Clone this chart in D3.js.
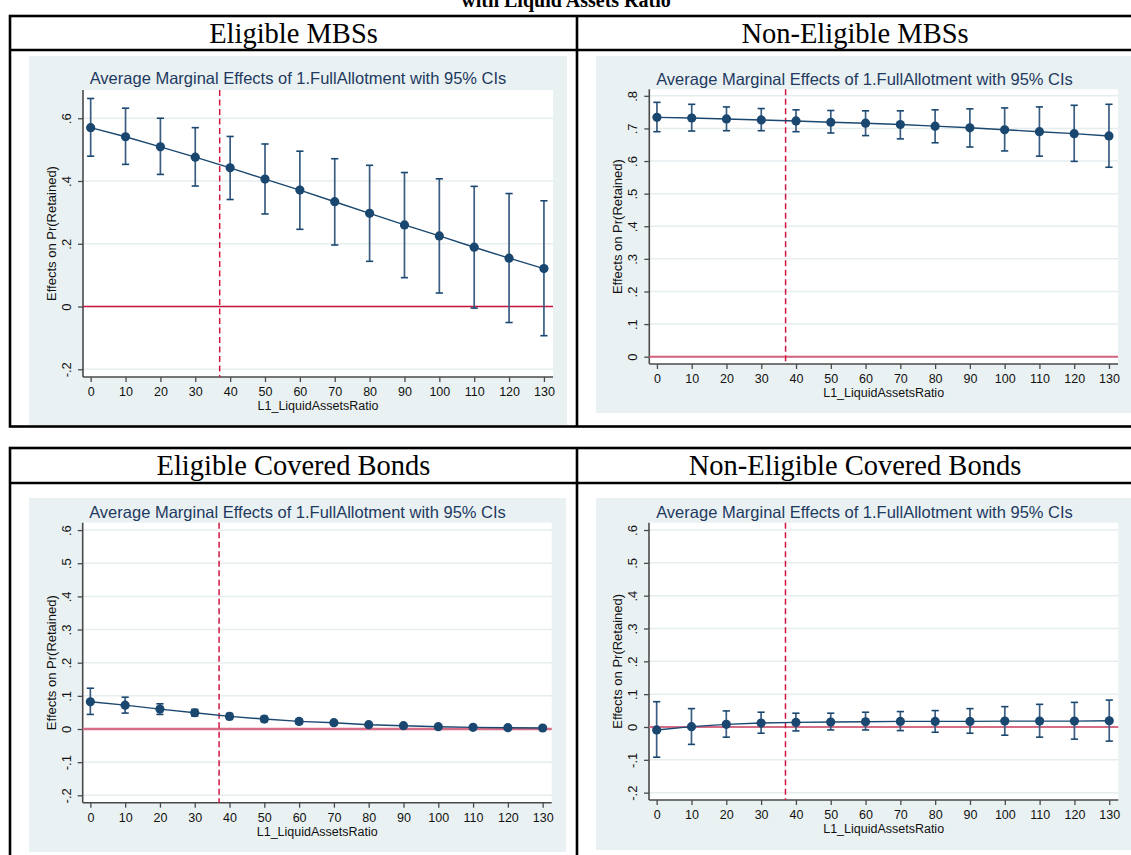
<!DOCTYPE html>
<html>
<head>
<meta charset="utf-8">
<script src="https://cdn.jsdelivr.net/npm/d3@7"></script>
<style>
  html, body { margin: 0; padding: 0; background: #fff; overflow: hidden; }
  svg { display: block; }
</style>
</head>
<body>
<div id="chart"></div>
<script>
/* Average marginal effects of FullAllotment on Pr(Retained),
   by liquid assets ratio, four Stata-style panels inside a table */
(function () {
  "use strict";

  // x levels (L1_LiquidAssetsRatio)
  var levels = [0, 10, 20, 30, 40, 50, 60, 70, 80, 90, 100, 110, 120, 130];
  var thresholdRatio = 37;

  // Eligible MBSs
  var eligMbsEffect = [0.570, 0.541, 0.509, 0.476, 0.442, 0.406, 0.371, 0.334, 0.297, 0.260, 0.225, 0.189, 0.154, 0.121];
  var eligMbsLower  = [0.479, 0.453, 0.421, 0.384, 0.341, 0.295, 0.246, 0.196, 0.144, 0.092, 0.043, -0.005, -0.051, -0.093];
  var eligMbsUpper  = [0.663, 0.632, 0.600, 0.570, 0.542, 0.518, 0.495, 0.471, 0.450, 0.427, 0.407, 0.383, 0.360, 0.337];

  // Non-Eligible MBSs
  var nonEligMbsEffect = [0.734, 0.732, 0.729, 0.726, 0.723, 0.719, 0.716, 0.712, 0.707, 0.702, 0.696, 0.690, 0.684, 0.677];
  var nonEligMbsLower  = [0.690, 0.692, 0.693, 0.693, 0.690, 0.686, 0.678, 0.668, 0.656, 0.643, 0.631, 0.615, 0.599, 0.581];
  var nonEligMbsUpper  = [0.780, 0.774, 0.766, 0.761, 0.757, 0.755, 0.754, 0.754, 0.757, 0.760, 0.763, 0.766, 0.771, 0.774];

  // Eligible Covered Bonds
  var eligCbEffect = [0.082, 0.072, 0.060, 0.049, 0.038, 0.030, 0.023, 0.019, 0.013, 0.010, 0.007, 0.005, 0.004, 0.003];
  var eligCbLower  = [0.044, 0.048, 0.044, 0.039, 0.029, 0.022, 0.016, 0.013, 0.008, 0.006, 0.004, 0.002, 0.002, 0.001];
  var eligCbUpper  = [0.123, 0.096, 0.076, 0.059, 0.047, 0.038, 0.030, 0.025, 0.018, 0.014, 0.010, 0.008, 0.006, 0.005];

  // Non-Eligible Covered Bonds
  var nonEligCbEffect = [-0.009, 0.001, 0.008, 0.012, 0.014, 0.015, 0.016, 0.017, 0.017, 0.017, 0.018, 0.018, 0.018, 0.019];
  var nonEligCbLower  = [-0.092, -0.053, -0.031, -0.019, -0.012, -0.009, -0.009, -0.011, -0.016, -0.019, -0.025, -0.031, -0.037, -0.043];
  var nonEligCbUpper  = [0.077, 0.056, 0.049, 0.045, 0.042, 0.042, 0.045, 0.047, 0.050, 0.056, 0.062, 0.069, 0.075, 0.082];

  // y tick values
  var ticksEligMbs = [-0.2, 0, 0.2, 0.4, 0.6];
  var ticksNonEligMbs = [0, 0.1, 0.2, 0.3, 0.4, 0.5, 0.6, 0.7, 0.8];
  var ticksCovered = [-0.2, -0.1, 0, 0.1, 0.2, 0.3, 0.4, 0.5, 0.6];

  // texts
  var pageHeading = "with Liquid Assets Ratio";
  var panelHeaders = ["Eligible MBSs", "Non-Eligible MBSs", "Eligible Covered Bonds", "Non-Eligible Covered Bonds"];
  var graphTitle = "Average Marginal Effects of 1.FullAllotment with 95% CIs";
  var xTitle = "L1_LiquidAssetsRatio";
  var yTitle = "Effects on Pr(Retained)";

  var W = 1131, H = 855;
  var SANS = "'Liberation Sans', Arial, Helvetica, sans-serif";
  var SERIF = "'Liberation Serif', 'Times New Roman', serif";
  var NAVY = "#1a476f";
  var BG = "#eaf1f3";
  var AXIS = "#4a4a4a";

  function fmtTick(v) {
    var r = Math.round(v * 10) / 10;
    if (r === 0) return "0";
    return String(r).replace("0.", ".");
  }

  function rows(est, lo, hi) {
    return levels.map(function (lv, i) { return { x: lv, est: est[i], lo: lo[i], hi: hi[i] }; });
  }

  // layout for each panel (pixels) + y domain of the plot region
  var panels = [
    { data: rows(eligMbsEffect, eligMbsLower, eligMbsUpper), ticks: ticksEligMbs, yDom: [-0.2246, 0.690],
      bg: [29, 56, 567, 425], plot: [83, 90, 553, 377], titleY: 84,
      zero: { c: "#c8143c", w: 1.3 } },
    { data: rows(nonEligMbsEffect, nonEligMbsLower, nonEligMbsUpper), ticks: ticksNonEligMbs, yDom: [-0.0224, 0.820],
      bg: [596, 56, 1133, 413], plot: [649.3, 89.3, 1118, 364], titleY: 85,
      zero: { c: "#d2627c", w: 2 } },
    { data: rows(eligCbEffect, eligCbLower, eligCbUpper), ticks: ticksCovered, yDom: [-0.2223, 0.6223],
      bg: [29, 498, 566, 852], plot: [82.7, 522.7, 551.7, 802.7], titleY: 517.5,
      zero: { c: "#d76d86", w: 2.4 } },
    { data: rows(nonEligCbEffect, nonEligCbLower, nonEligCbUpper), ticks: ticksCovered, yDom: [-0.2224, 0.6223],
      bg: [596, 498, 1133, 850], plot: [649, 522.7, 1118.3, 800], titleY: 517.5,
      zero: { c: "#d56c86", w: 2 } }
  ];

  var svg = d3.select("#chart").append("svg").attr("width", W).attr("height", H);

  /* Stata-like graph panel */
  function drawPanel(p) {
    var g = svg.append("g");
    var bx = p.bg;
    g.append("rect").attr("x", bx[0]).attr("y", bx[1])
      .attr("width", bx[2] - bx[0]).attr("height", bx[3] - bx[1]).attr("fill", BG);

    var x = d3.scaleLinear().domain([-2.2, 132.6]).range([p.plot[0], p.plot[2]]);
    var y = d3.scaleLinear().domain(p.yDom).range([p.plot[3], p.plot[1]]);
    var xl = p.plot[0], xr = p.plot[2], yt = p.plot[1], yb = p.plot[3];

    g.append("rect").attr("x", xl).attr("y", yt).attr("width", xr - xl).attr("height", yb - yt).attr("fill", "#fff");

    // grid
    g.selectAll("line.grid").data(p.ticks).join("line").attr("class", "grid")
      .attr("x1", xl).attr("x2", xr)
      .attr("y1", function (d) { return y(d); }).attr("y2", function (d) { return y(d); })
      .attr("stroke", "#e6edef").attr("stroke-width", 1.5);

    // title
    g.append("text").attr("x", (bx[0] + bx[2]) / 2).attr("y", p.titleY)
      .attr("text-anchor", "middle").style("font-family", SANS).style("font-size", "16.5px")
      .style("fill", "#1e3a5f").text(graphTitle);

    // y axis
    var ya = g.append("g").attr("transform", "translate(" + xl + ",0)")
      .call(d3.axisLeft(y).tickValues(p.ticks).tickSize(5).tickSizeOuter(0).tickFormat(fmtTick));
    ya.select(".domain").attr("stroke", AXIS).attr("stroke-width", 1.6)
      .attr("d", "M0," + yt + "V" + yb);
    ya.selectAll(".tick line").attr("stroke", AXIS).attr("stroke-width", 1.3);
    ya.selectAll(".tick text").attr("x", null).attr("dy", "0.36em")
      .attr("transform", "translate(-16.5,0) rotate(-90)")
      .attr("text-anchor", "middle").style("font-family", SANS).style("font-size", "13px").style("fill", "#111");

    g.append("text")
      .attr("transform", "translate(" + (xl - 31.5) + "," + ((yt + yb) / 2) + ") rotate(-90)")
      .attr("dy", "0.36em").attr("text-anchor", "middle")
      .style("font-family", SANS).style("font-size", "13px").style("fill", "#111").text(yTitle);

    // x axis
    var xa = g.append("g").attr("transform", "translate(0," + yb + ")")
      .call(d3.axisBottom(x).tickValues(levels).tickSize(5).tickSizeOuter(0).tickPadding(5.5));
    xa.select(".domain").attr("stroke", AXIS).attr("stroke-width", 1.6)
      .attr("d", "M" + xl + ",0H" + xr);
    xa.selectAll(".tick line").attr("stroke", AXIS).attr("stroke-width", 1.3);
    xa.selectAll(".tick text").style("font-family", SANS).style("font-size", "12.5px").style("fill", "#111");

    g.append("text").attr("x", (xl + xr) / 2).attr("y", yb + 28.5).attr("dy", "0.36em")
      .attr("text-anchor", "middle").style("font-family", SANS).style("font-size", "12.5px")
      .style("fill", "#111").text(xTitle);

    // reference lines
    g.append("line").attr("x1", xl).attr("x2", xr).attr("y1", y(0)).attr("y2", y(0))
      .attr("stroke", p.zero.c).attr("stroke-width", p.zero.w);
    g.append("line").attr("x1", x(thresholdRatio)).attr("x2", x(thresholdRatio))
      .attr("y1", yt).attr("y2", yb)
      .attr("stroke", "#d0153f").attr("stroke-width", 1.5).attr("stroke-dasharray", "6,3.5");

    // confidence intervals
    var ci = g.append("g");
    ci.selectAll("line.bar").data(p.data).join("line").attr("class", "bar")
      .attr("x1", function (d) { return x(d.x); }).attr("x2", function (d) { return x(d.x); })
      .attr("y1", function (d) { return y(d.lo); }).attr("y2", function (d) { return y(d.hi); })
      .attr("stroke", "#3a5d81").attr("stroke-width", 1.7);
    ["lo", "hi"].forEach(function (k) {
      ci.selectAll("line.cap-" + k).data(p.data).join("line").attr("class", "cap-" + k)
        .attr("x1", function (d) { return x(d.x) - 3.6; }).attr("x2", function (d) { return x(d.x) + 3.6; })
        .attr("y1", function (d) { return y(d[k]); }).attr("y2", function (d) { return y(d[k]); })
        .attr("stroke", NAVY).attr("stroke-width", 1.6);
    });

    // connected estimates
    var line = d3.line().x(function (d) { return x(d.x); }).y(function (d) { return y(d.est); });
    g.append("path").datum(p.data).attr("d", line)
      .attr("fill", "none").attr("stroke", NAVY).attr("stroke-width", 1.4);
    g.selectAll("circle.pt").data(p.data).join("circle").attr("class", "pt")
      .attr("cx", function (d) { return x(d.x); }).attr("cy", function (d) { return y(d.est); })
      .attr("r", 4.6).attr("fill", NAVY);
  }

  // page heading (clipped at the top edge, as in the source page)
  svg.append("text").attr("x", 566).attr("y", 6.5).attr("text-anchor", "middle")
    .style("font-family", SERIF).style("font-size", "20px").style("font-weight", "bold")
    .style("fill", "#000").text(pageHeading);

  panels.forEach(drawPanel);

  /* Table frame */
  var tables = [
    { top: 16, head: 50, bottom: 426.5, headerY: 43 },
    { top: 448, head: 483, bottom: 858, headerY: 475 }
  ];
  var tL = 10, tM = 577, tR = 1133;
  tables.forEach(function (t, ti) {
    var f = svg.append("g").attr("stroke", "#000").attr("stroke-width", 2.6).attr("fill", "none");
    f.append("rect").attr("x", tL).attr("y", t.top).attr("width", tR - tL).attr("height", t.bottom - t.top);
    f.append("line").attr("x1", tL).attr("x2", tR).attr("y1", t.head).attr("y2", t.head);
    f.append("line").attr("x1", tM).attr("x2", tM).attr("y1", t.top).attr("y2", t.bottom);
    [(tL + tM) / 2, (tM + tR) / 2].forEach(function (cx, ci) {
      svg.append("text").attr("x", cx).attr("y", t.headerY).attr("text-anchor", "middle")
        .style("font-family", SERIF).style("font-size", "28.5px").style("fill", "#000")
        .text(panelHeaders[ti * 2 + ci]);
    });
  });
})();
</script>
</body>
</html>
